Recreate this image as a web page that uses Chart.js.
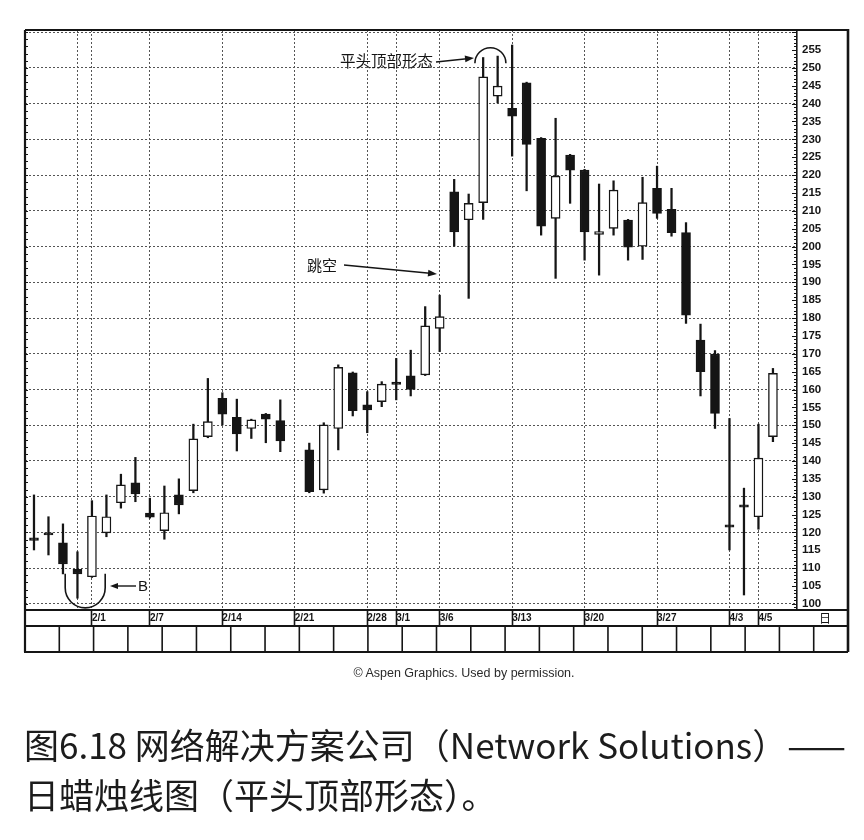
<!DOCTYPE html>
<html><head><meta charset="utf-8">
<script src="https://cdn.jsdelivr.net/npm/chart.js@4"></script>
<style>
html,body{margin:0;padding:0;background:#fff;}
#wrap{position:relative;width:864px;height:840px;overflow:hidden;}
#c{position:absolute;left:0;top:0;}
.cap{position:absolute;font-family:"Noto Sans CJK SC","Noto Sans",sans-serif;color:#1c1c1c;white-space:nowrap;}
</style></head><body>
<div id="wrap">
<canvas id="c" width="864" height="840"></canvas>
<div class="cap" style="left:0;width:928px;text-align:center;top:666px;font-size:12.5px;font-family:'Liberation Sans','DejaVu Sans',sans-serif;color:#2a2a2a;">© Aspen Graphics. Used by permission.</div>
<div class="cap" style="left:24px;top:720px;font-size:35px;line-height:48px;">图6.18 网络解决方案公司（Network Solutions）——</div>
<div class="cap" style="left:24px;top:770px;font-size:35px;line-height:48px;">日蜡烛线图（平头顶部形态）。</div>
</div>
<script>
// trading days (2/21 is a holiday slot with no candle)
const dates = ['1/26','1/27','1/28','1/31','2/1','2/2','2/3','2/4','2/7','2/8','2/9','2/10','2/11',
  '2/14','2/15','2/16','2/17','2/18','2/21','2/22','2/23','2/24','2/25','2/28','2/29',
  '3/1','3/2','3/3','3/6','3/7','3/8','3/9','3/10','3/13','3/14','3/15','3/16','3/17',
  '3/20','3/21','3/22','3/23','3/24','3/27','3/28','3/29','3/30','3/31','4/3','4/4','4/5','4/6'];
const opens  = [118.5,119.9,117.1,109.7,107.6,119.9,128.3,133.9,125.4,120.5,130.5,131.7,146.8,
  157.5,152.2,149.1,153.1,151.3,null,143.1,131.9,149.1,164.7,155.7,156.6,
  162.1,163.8,164.1,177.1,215.3,207.5,212.3,242.1,238.7,245.8,230.3,207.9,225.6,
  221.4,203.4,205.1,207.4,200.1,216.3,210.4,203.9,173.8,169.9,122.1,127.7,124.4,146.8];
const highs  = [130.5,124.4,122.4,114.6,128.9,130.5,136.3,141.0,129.6,133.0,135.0,150.3,163.1,
  159.1,157.3,151.7,153.3,157.1,null,145.0,150.7,166.9,164.9,159.4,162.2,
  168.7,171.0,183.2,186.4,218.8,214.7,252.9,253.3,256.4,246.0,230.5,235.9,225.8,
  221.6,217.5,218.4,207.6,219.4,222.5,216.3,206.7,178.3,170.9,151.9,132.4,150.3,165.9];
const lows   = [115.1,113.7,108.4,101.6,107.4,118.8,126.8,128.6,124.0,118.1,125.2,131.1,146.5,
  150.1,142.8,146.3,145.1,142.6,null,131.1,131.0,143.1,152.6,147.9,155.2,
  157.1,158.2,163.9,170.6,200.1,185.5,207.6,240.2,225.3,215.6,203.2,191.1,212.1,
  196.2,192.0,203.2,196.2,196.4,207.9,202.9,178.5,158.2,149.1,115.1,102.5,120.9,145.4];
const closes = [117.8,119.3,111.2,108.4,124.6,124.4,133.3,130.8,124.3,125.5,127.7,146.2,151.0,
  153.1,147.6,151.5,151.7,145.6,null,131.4,150.1,166.2,154.1,154.3,161.5,
  161.4,160.0,177.8,180.4,204.1,212.1,247.5,244.9,236.5,228.6,205.7,219.7,221.4,
  204.1,204.2,215.8,199.8,212.3,209.3,203.9,180.8,165.0,153.3,121.5,127.1,140.8,164.5];
const tickDates = ['2/1','2/7','2/14','2/21','2/28','3/1','3/6','3/13','3/20','3/27','4/3','4/5'];
const gridDates = ['1/31'].concat(tickDates);
const priceLabelsStep = 5;
const priceLabelMax = 255;

const idx = dates.map((d,i)=>i).filter(i=>opens[i]!==null);
const wickData = idx.map(i=>({x:i, y:[lows[i], highs[i]]}));
const bodyData = idx.map(i=>({x:i, y:[Math.min(opens[i],closes[i]), Math.max(opens[i],closes[i])]}));
const bodyFill = idx.map(i=> closes[i] > opens[i] ? '#ffffff' : '#151515');
const gridIdx = gridDates.map(d=>dates.indexOf(d));

const FONT = "'Liberation Sans','Arial',sans-serif";
const CJK = "'Noto Sans CJK SC','Noto Sans',sans-serif";

function arrow(ctx, x1, y1, x2, y2, head){
  const a = Math.atan2(y2-y1, x2-x1);
  ctx.beginPath(); ctx.moveTo(x1,y1);
  ctx.lineTo(x2 - Math.cos(a)*head*0.8, y2 - Math.sin(a)*head*0.8); ctx.stroke();
  ctx.beginPath();
  ctx.moveTo(x2,y2);
  ctx.lineTo(x2 - head*Math.cos(a) + head*0.38*Math.sin(a), y2 - head*Math.sin(a) - head*0.38*Math.cos(a));
  ctx.lineTo(x2 - head*Math.cos(a) - head*0.38*Math.sin(a), y2 - head*Math.sin(a) + head*0.38*Math.cos(a));
  ctx.closePath(); ctx.fill();
}

const extras = {
  id:'extras',
  afterDraw(chart){
    const ctx = chart.ctx, xs = chart.scales.x, ys = chart.scales.y, ca = chart.chartArea;
    const L = ca.left, R = 848, T = ca.top, B = ca.bottom, rowB = B + 16, boxB = rowB + 26;
    ctx.save();
    ctx.strokeStyle = '#151515'; ctx.fillStyle = '#151515';
    // frame
    ctx.lineWidth = 2.2;
    ctx.beginPath(); ctx.moveTo(L, T); ctx.lineTo(R, T); ctx.stroke();
    ctx.beginPath(); ctx.moveTo(L, T); ctx.lineTo(L, boxB); ctx.stroke();
    ctx.lineWidth = 2.6;
    ctx.beginPath(); ctx.moveTo(R, T-1); ctx.lineTo(R, boxB); ctx.stroke();
    ctx.lineWidth = 2;
    ctx.beginPath(); ctx.moveTo(ca.right, B); ctx.lineTo(R, B); ctx.stroke();
    ctx.beginPath(); ctx.moveTo(L, rowB); ctx.lineTo(R, rowB); ctx.stroke();
    ctx.beginPath(); ctx.moveTo(L-1, boxB); ctx.lineTo(R, boxB); ctx.stroke();
    // bottom row of boxes
    ctx.lineWidth = 1.6;
    const nb = 24, bw = (R - L) / nb;
    for (let k=1;k<nb;k++){
      ctx.beginPath(); ctx.moveTo(L + k*bw, rowB); ctx.lineTo(L + k*bw, boxB); ctx.stroke();
    }
    // minor ticks on price axis and left border
    ctx.lineWidth = 1;
    for (let v=99; v<=260; v++){
      const y = Math.round(ys.getPixelForValue(v)) + 0.5;
      const len = v % 5 === 0 ? 5 : 3;
      ctx.beginPath(); ctx.moveTo(ca.right - len, y); ctx.lineTo(ca.right, y); ctx.stroke();
      if (v % 2 === 0){ ctx.beginPath(); ctx.moveTo(L, y); ctx.lineTo(L + 3, y); ctx.stroke(); }
    }
    // day marker
    ctx.font = "12px " + CJK; ctx.textBaseline = 'middle'; ctx.textAlign = 'center';
    ctx.fillText('日', 825, B + 8);

    // flat-top annotation
    const cx = (xs.getPixelForValue(31) + xs.getPixelForValue(32)) / 2;
    const cy = ys.getPixelForValue(251.3);
    ctx.lineWidth = 1.6;
    ctx.beginPath(); ctx.arc(cx, cy, 15.5, Math.PI, 2*Math.PI, false); ctx.stroke();
    ctx.font = "15.5px " + CJK; ctx.textAlign = 'right'; ctx.textBaseline = 'middle';
    ctx.fillText('平头顶部形态', 433, 61);
    ctx.lineWidth = 1.4;
    arrow(ctx, 436, 62, 474, 58, 9);

    // gap annotation
    ctx.textAlign = 'left';
    ctx.font = "15px " + CJK;
    ctx.fillText('跳空', 307, 265);
    arrow(ctx, 344, 265, 437, 274, 9);

    // B annotation
    const bx = (xs.getPixelForValue(3) + xs.getPixelForValue(4)) / 2 + 0.5;
    const by = ys.getPixelForValue(104.5);
    ctx.lineWidth = 1.6;
    ctx.beginPath();
    ctx.moveTo(bx - 20, by - 14);
    ctx.lineTo(bx - 20, by);
    ctx.arc(bx, by, 20, Math.PI, 0, true);
    ctx.lineTo(bx + 20, by - 14);
    ctx.stroke();
    ctx.lineWidth = 1.4;
    arrow(ctx, 136, 586, 110, 586, 8);
    ctx.font = "15px " + FONT; ctx.textAlign = 'left';
    ctx.fillText('B', 138, 587);
    ctx.restore();
  }
};

new Chart(document.getElementById('c'), {
  type: 'bar',
  data: {
    datasets: [
      { label:'body', data: bodyData, order: 1, grouped:false, barThickness: 9,
        backgroundColor: bodyFill, borderColor:'#151515', borderWidth:1.4, borderSkipped:false },
      { label:'wick', data: wickData, order: 2, grouped:false, barThickness: 1.6,
        backgroundColor:'#151515', borderWidth:0 }
    ]
  },
  options: {
    responsive:false, animation:false,
    layout:{ padding:{ left:25, top:30, right:16, bottom:214 } },
    plugins:{ legend:{display:false}, tooltip:{enabled:false} },
    scales:{
      x:{ type:'linear', min:-0.62, max:52.66, offset:false,
        afterBuildTicks: s => { s.ticks = gridIdx.map(v=>({value:v})); },
        afterFit: s => { s.height = 16; },
        grid:{ offset:false, color:'#555', lineWidth:1, drawTicks:true, tickLength:16, tickWidth:1.6,
          tickColor: c => (c.tick && c.tick.value === dates.indexOf('1/31')) ? 'rgba(0,0,0,0)' : '#151515' },
        border:{ display:true, color:'#151515', width:2, dash:[2,2] },
        ticks:{ autoSkip:false, maxRotation:0, align:'start', padding:-14, color:'#151515',
          font:{ family:FONT, size:10, weight:'bold' },
          callback: v => { const d = dates[v]; return tickDates.includes(d) ? d : ''; } }
      },
      y:{ position:'right', min:98.3, max:260.6,
        afterBuildTicks: s => { const t=[]; for(let v=99; v<=260; v++) t.push({value:v}); s.ticks=t; },
        afterFit: s => { s.width = 51; },
        grid:{ color: c => (c.tick && c.tick.value % 10 === 0) ? '#555' : 'rgba(0,0,0,0)', drawTicks:false, lineWidth:1 },
        border:{ display:true, color:'#151515', width:1.6, dash:[2,2] },
        ticks:{ autoSkip:false, padding:5, color:'#151515',
          font:{ family:FONT, size:11.5, weight:'bold' },
          callback: v => (v % priceLabelsStep === 0 && v <= priceLabelMax) ? String(v) : '' }
      }
    }
  },
  plugins:[extras]
});
</script>
</body></html>
